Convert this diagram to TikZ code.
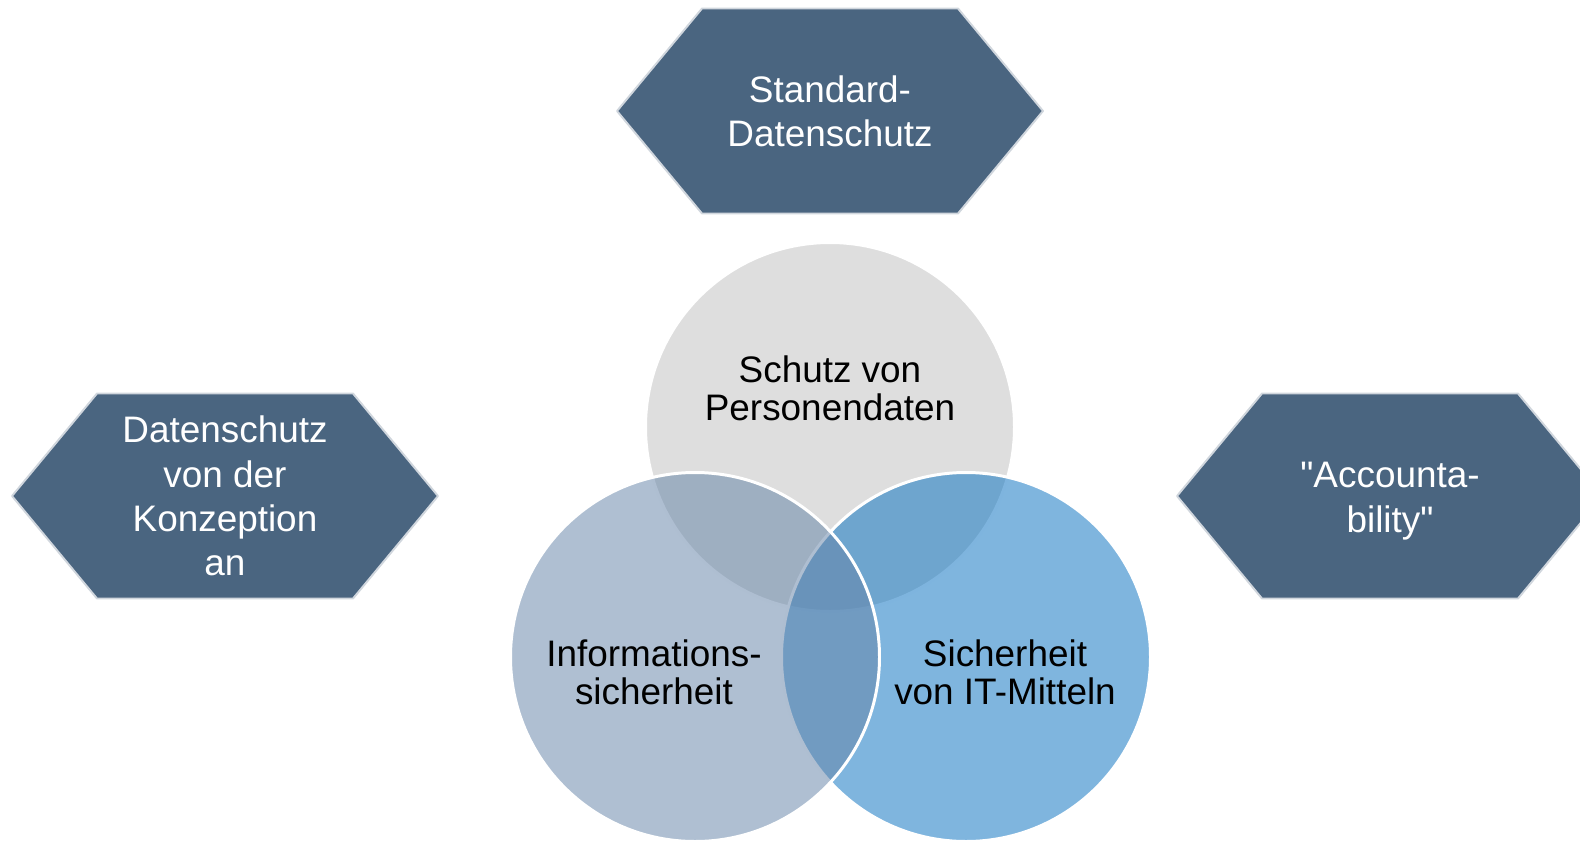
\documentclass[tikz,border=0pt]{standalone}
\usepackage{fontspec}
\setmainfont{Liberation Sans}
\definecolor{hexfill}{RGB}{74,101,128}
\definecolor{hexline}{RGB}{208,214,221}
\definecolor{venntop}{RGB}{222,222,222}
\definecolor{vennleft}{RGB}{101,132,168}
\definecolor{vennright}{RGB}{9,113,192}
\tikzset{
  hexa/.style={fill=hexfill, draw=hexline, line width=1.1pt, line join=round},
  hextext/.style={text=white, align=center, font=\fontsize{21}{25.2}\selectfont},
  venn/.style={draw=white, line width=1.7pt, fill opacity=0.52},
  venntext/.style={text=black, align=center, font=\fontsize{21}{21.6}\selectfont},
}
\begin{document}
\begin{tikzpicture}[x=0.02cm, y=-0.02cm]
  \useasboundingbox (0,0) rectangle (1580,842);
  \clip (0,0) rectangle (1580,842);
  % hexagons
  \coordinate (std) at (830,111);
  \coordinate (konz) at (225,496);
  \coordinate (acc) at (1390,496);
  \foreach \c in {std,konz,acc}
    \draw[hexa] (\c) +(-213,0) -- +(-128,-102.5) -- +(128,-102.5)
      -- +(213,0) -- +(128,102.5) -- +(-128,102.5) -- cycle;
  \node[hextext] (stdtext) at (std) {Standard-\\Datenschutz};
  \node[hextext] (konztext) at (konz) {Datenschutz\\von der\\Konzeption\\an};
  \node[hextext] (acctext) at (1390,501) {\textquotedbl Accounta-\\bility\textquotedbl};
  % venn circles
  \coordinate (pers) at (830,427);
  \coordinate (info) at (695,657);
  \coordinate (it) at (966,657);
  \draw[fill=venntop, draw=white, line width=1.7pt] (pers) circle (184.5);
  \draw[venn, fill=vennright] (it) circle (184.5);
  \draw[venn, fill=vennleft] (info) circle (184.5);
  \node[venntext] (perstext) at (830,388) {Schutz von\\Personendaten};
  \node[venntext] (infotext) at (654,672) {Informations-\\sicherheit};
  \node[venntext] (ittext) at (1005,672) {Sicherheit\\von IT-Mitteln};
\end{tikzpicture}
\end{document}
